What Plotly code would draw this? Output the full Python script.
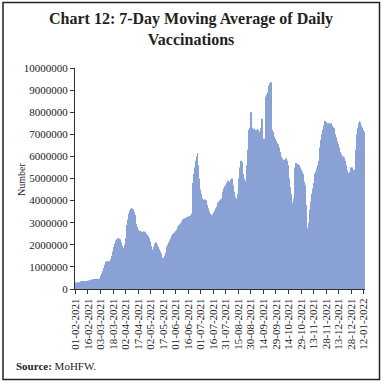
import datetime as dt
import plotly.graph_objects as go

# 7-day moving average of daily vaccinations (by month)
feb_2021 = [280000, 285000, 290000, 295000, 290000, 300000, 310000, 340000, 355000, 360000,
            365000, 360000, 355000, 350000, 360000, 370000, 380000, 390000, 400000, 410000,
            430000, 440000, 445000, 450000, 455000, 460000, 450000, 440000]
mar_2021 = [450000, 470000, 520000, 600000, 700000, 820000, 950000, 1100000, 1200000, 1230000,
            1240000, 1250000, 1240000, 1230000, 1260000, 1350000, 1500000, 1700000, 1900000, 2050000,
            2150000, 2200000, 2250000, 2300000, 2280000, 2250000, 2200000, 2100000, 1950000, 1850000,
            1800000]
apr_2021 = [2000000, 2300000, 2600000, 2900000, 3150000, 3400000, 3550000, 3620000, 3650000, 3640000,
            3600000, 3480000, 3350000, 3150000, 2950000, 2800000, 2680000, 2620000, 2600000, 2620000,
            2600000, 2580000, 2590000, 2600000, 2570000, 2550000, 2500000, 2450000, 2400000, 2300000]
may_2021 = [2150000, 1950000, 1800000, 1750000, 1780000, 1900000, 2050000, 2100000, 2080000, 2000000,
            1900000, 1800000, 1700000, 1600000, 1500000, 1420000, 1380000, 1400000, 1500000, 1650000,
            1800000, 1900000, 2000000, 2100000, 2200000, 2280000, 2350000, 2420000, 2480000, 2520000,
            2570000]
jun_2021 = [2620000, 2680000, 2750000, 2820000, 2880000, 2920000, 2980000, 3050000, 3100000, 3150000,
            3180000, 3200000, 3220000, 3250000, 3260000, 3270000, 3280000, 3300000, 3350000, 3400000,
            4200000, 4800000, 5200000, 5500000, 5800000, 6000000, 6150000, 5600000, 5000000, 4500000]
jul_2021 = [4300000, 4150000, 4100000, 4050000, 4000000, 4050000, 4020000, 3950000, 3800000, 3650000,
            3500000, 3400000, 3350000, 3300000, 3320000, 3380000, 3450000, 3550000, 3650000, 3720000,
            3800000, 3900000, 3950000, 4000000, 4050000, 4100000, 4250000, 4400000, 4550000, 4650000,
            4700000]
aug_2021 = [4800000, 4850000, 4900000, 4800000, 4850000, 4950000, 5000000, 4950000, 4700000, 4400000,
            4150000, 4000000, 4100000, 4300000, 4500000, 5000000, 5500000, 5800000, 5750000, 5500000,
            5200000, 5000000, 4700000, 4900000, 5600000, 6300000, 7000000, 7200000, 7300000, 8000000,
            7300000]
sep_2021 = [7200000, 7150000, 7250000, 7200000, 7100000, 7200000, 7250000, 7200000, 7100000, 7000000,
            7300000, 7700000, 7200000, 6800000, 6600000, 6800000, 8700000, 8800000, 8900000, 9000000,
            9200000, 9300000, 9350000, 7200000, 7100000, 7000000, 6900000, 6800000, 6700000, 6600000]
oct_2021 = [6550000, 6450000, 6400000, 6200000, 6000000, 5900000, 5850000, 5800000, 5800000, 5850000,
            5900000, 5800000, 5600000, 5500000, 5000000, 4600000, 4300000, 3900000, 3500000, 4100000,
            5000000, 5500000, 5700000, 5650000, 5600000, 5650000, 5600000, 5500000, 5400000, 5300000,
            5200000]
nov_2021 = [5000000, 4850000, 4700000, 3800000, 2700000, 2750000, 3000000, 3300000, 3600000, 3950000,
            4300000, 4550000, 4800000, 4950000, 5200000, 5300000, 5450000, 5600000, 5800000, 6100000,
            6400000, 6750000, 7000000, 7200000, 7400000, 7500000, 7600000, 7550000, 7500000, 7450000]
dec_2021 = [7500000, 7400000, 7450000, 7500000, 7400000, 7300000, 7300000, 7200000, 7000000, 6850000,
            6700000, 6550000, 6400000, 6300000, 6200000, 6100000, 6000000, 6000000, 5950000, 5900000,
            5800000, 5600000, 5400000, 5250000, 5200000, 5300000, 5450000, 5500000, 5500000, 5400000,
            5350000]
jan_2022 = [5400000, 5500000, 6300000, 7000000, 7300000, 7500000, 7600000, 7550000, 7400000, 7300000,
            7200000, 7100000, 7000000]

values = (feb_2021 + mar_2021 + apr_2021 + may_2021 + jun_2021 + jul_2021 + aug_2021
          + sep_2021 + oct_2021 + nov_2021 + dec_2021 + jan_2022)

start = dt.date(2021, 2, 1)
dates = [(start + dt.timedelta(days=i)).strftime("%d-%m-%Y") for i in range(len(values))]
tick_labels = dates[::15]
y_ticks = [0, 1000000, 2000000, 3000000, 4000000, 5000000, 6000000, 7000000, 8000000, 9000000, 10000000]

W, H = 382, 383
ML, MR, MT, MB = 75, 17, 68, 94
pw, ph = W - ML - MR, H - MT - MB

def px_x(x):
    return (x - ML) / pw

def px_y(y):
    return (H - MB - y) / ph

serif = "Liberation Serif, Times New Roman, serif"

fig = go.Figure(go.Bar(
    x=dates, y=values,
    marker=dict(color="rgb(138,161,214)", line=dict(width=0)),
))

fig.update_layout(
    width=W, height=H,
    margin=dict(l=ML, r=MR, t=MT, b=MB),
    paper_bgcolor="white", plot_bgcolor="white",
    bargap=0.1,
    showlegend=False,
    font=dict(family=serif, size=11, color="#222"),
    xaxis=dict(
        type="category",
        tickmode="array", tickvals=tick_labels, ticktext=tick_labels,
        tickangle=-90,
        ticks="outside", ticklen=4, tickcolor="#333",
        showline=True, linecolor="#333", linewidth=1,
        showgrid=False,
        tickfont=dict(family=serif, size=11, color="#222"),
        range=[-0.5, len(values) - 0.5],
    ),
    yaxis=dict(
        range=[0, 10000000],
        tickmode="array", tickvals=y_ticks, ticktext=[str(v) for v in y_ticks],
        ticks="outside", ticklen=4, tickcolor="#333",
        showline=True, linecolor="#333", linewidth=1,
        showgrid=False, zeroline=False,
        tickfont=dict(family=serif, size=11, color="#222"),
    ),
    shapes=[dict(
        type="rect", xref="paper", yref="paper",
        x0=px_x(3), x1=px_x(379.5), y0=px_y(379.5), y1=px_y(2.5),
        line=dict(color="#222", width=1.5), fillcolor="rgba(0,0,0,0)", layer="above",
    )],
    annotations=[
        dict(
            text="<b>Chart 12: 7-Day Moving Average of Daily<br>Vaccinations</b>",
            xref="paper", yref="paper", x=px_x(W / 2), y=px_y(8),
            xanchor="center", yanchor="top", showarrow=False, align="center",
            font=dict(family=serif, size=16, color="#231f20"),
        ),
        dict(
            text="Number", textangle=-90,
            xref="paper", yref="paper", x=px_x(21), y=px_y(180),
            xanchor="center", yanchor="middle", showarrow=False,
            font=dict(family=serif, size=10, color="#222"),
        ),
        dict(
            text="<b>Source:</b> MoHFW.",
            xref="paper", yref="paper", x=px_x(14), y=px_y(366),
            xanchor="left", yanchor="middle", showarrow=False,
            font=dict(family=serif, size=11, color="#231f20"),
        ),
    ],
)

fig.write_html("out.html", config={"displayModeBar": False},
               post_script="document.body.style.margin='0';document.body.style.padding='0';")
